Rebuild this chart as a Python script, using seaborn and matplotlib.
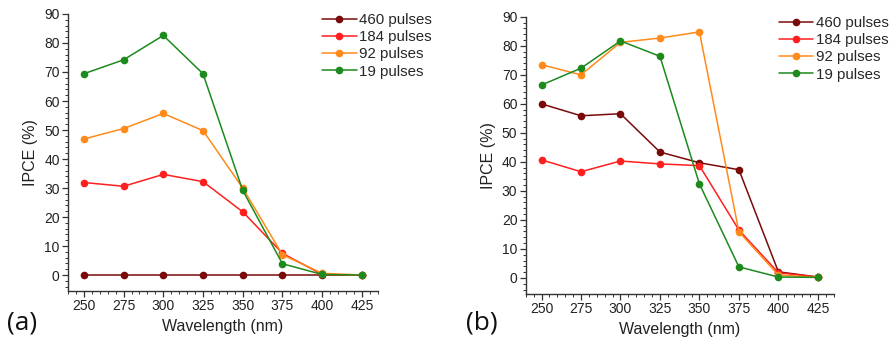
import numpy as np
import pandas as pd
import matplotlib
matplotlib.use("Agg")
import matplotlib.pyplot as plt
from matplotlib.ticker import MultipleLocator
import seaborn as sns

wavelength = [250, 275, 300, 325, 350, 375, 400, 425]
series_labels = ["460 pulses", "184 pulses", "92 pulses", "19 pulses"]
colors = ["#7a0a0a", "#ff1f1f", "#ff8a1a", "#1c8a1c"]

a_460 = [0, 0, 0, 0, 0, 0, 0, 0]
a_184 = [31.9, 30.6, 34.7, 32.2, 21.8, 7.5, 0.2, 0]
a_92 = [46.9, 50.5, 55.7, 49.8, 30.0, 7.0, 0.6, 0]
a_19 = [69.4, 74.2, 82.6, 69.4, 29.2, 3.9, 0.2, 0]

b_460 = [60.0, 55.9, 56.6, 43.4, 39.7, 37.3, 2.1, 0.3]
b_184 = [40.7, 36.6, 40.3, 39.3, 38.7, 16.5, 1.8, 0.3]
b_92 = [73.5, 70.0, 81.2, 82.7, 84.8, 15.9, 1.0, 0.2]
b_19 = [66.5, 72.3, 81.7, 76.4, 32.4, 3.8, 0.3, 0.2]

panels = [("(a)", [a_460, a_184, a_92, a_19]), ("(b)", [b_460, b_184, b_92, b_19])]

sns.set_theme(style="ticks")
plt.rcParams["font.family"] = ["Liberation Sans", "DejaVu Sans"]

fig = plt.figure(figsize=(8.9, 3.37), dpi=100)
ax_rects = [[0.0764, 0.1365, 0.348, 0.822], [0.5907, 0.128, 0.346, 0.822]]
legend_anchor = [(0.362, 0.962), (0.875, 0.953)]
panel_label_pos = [(0.008, 0.022), (0.524, 0.022)]

for i, (plabel, data) in enumerate(panels):
    ax = fig.add_axes(ax_rects[i])
    for lab, vals, c in zip(series_labels, data, colors):
        df = pd.DataFrame({"Wavelength": wavelength, "IPCE": vals})
        sns.lineplot(data=df, x="Wavelength", y="IPCE", ax=ax, color=c,
                     marker="o", markersize=5.5, markeredgewidth=0,
                     linewidth=1.1, label=lab)
    ax.set_xlim(240, 435)
    ax.set_ylim(-5.5, 90)
    ax.set_xticks(wavelength)
    ax.set_yticks(np.arange(0, 91, 10))
    ax.xaxis.set_minor_locator(MultipleLocator(5))
    ax.yaxis.set_minor_locator(MultipleLocator(2))
    ax.tick_params(which="major", direction="out", length=4, width=0.9,
                   labelsize=10, color="#333333", labelcolor="#222222", pad=2)
    ax.tick_params(which="minor", direction="out", length=2, width=0.7, color="#333333")
    for s in ["top", "right"]:
        ax.spines[s].set_visible(False)
    for s in ["left", "bottom"]:
        ax.spines[s].set_linewidth(1.0)
        ax.spines[s].set_color("#333333")
    ax.set_xlabel("Wavelength (nm)", fontsize=11.5, color="#222222", labelpad=4)
    ax.set_ylabel("IPCE (%)", fontsize=11.5, color="#222222", labelpad=4)
    h, l = ax.get_legend_handles_labels()
    ax.legend(h, l, loc="upper left", bbox_to_anchor=legend_anchor[i],
              bbox_transform=fig.transFigure, frameon=False, fontsize=10.8,
              handlelength=2.3, handletextpad=0.15, labelspacing=0.22,
              borderpad=0, borderaxespad=0)
    fig.text(panel_label_pos[i][0], panel_label_pos[i][1], plabel,
             fontsize=19, family=["Open Sans", "DejaVu Sans"], color="#111111")

fig.savefig("out.png", dpi=100)
